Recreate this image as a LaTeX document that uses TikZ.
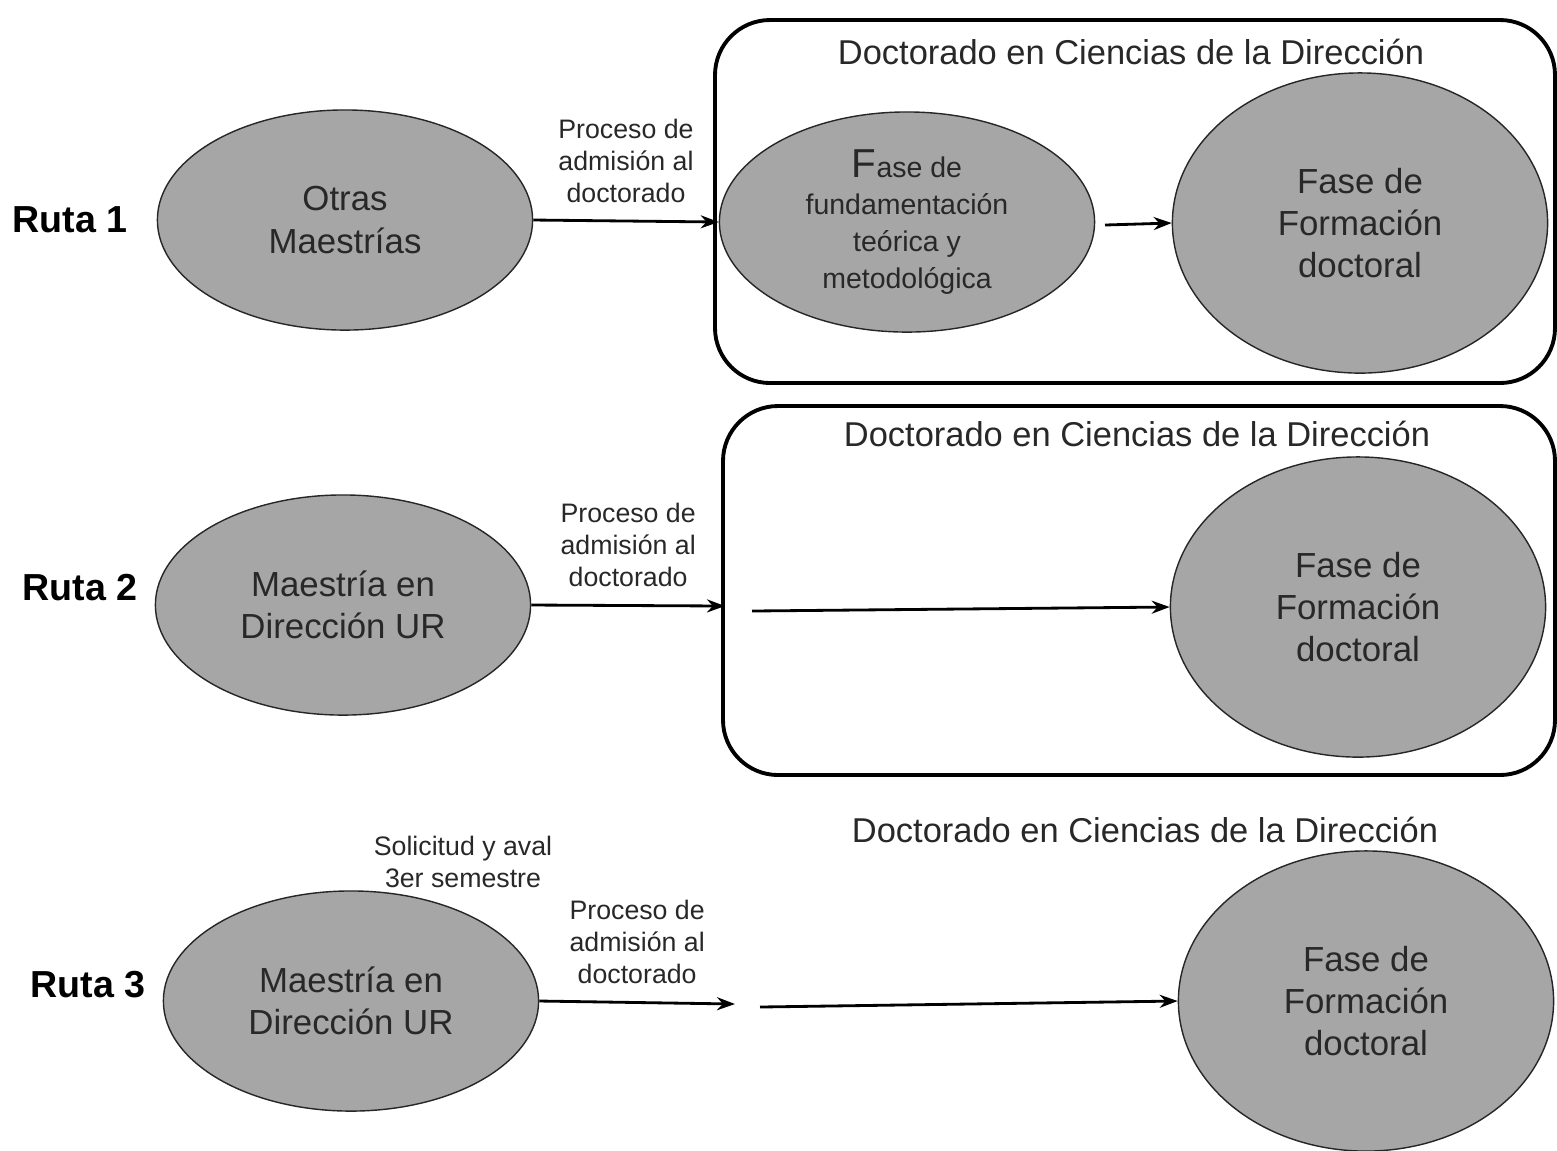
\documentclass[tikz,border=0pt]{standalone}
\usepackage{fontspec}
\setmainfont{Liberation Sans}
\usetikzlibrary{shapes.geometric,arrows.meta}
\definecolor{fasegris}{RGB}{166,166,166}
\definecolor{textogris}{RGB}{40,40,40}

\begin{document}
\begin{tikzpicture}[x=0.01cm, y=-0.01cm,
  fase/.style={ellipse, draw=black!85, fill=fasegris, minimum width=3.75cm, minimum height=2.2cm, align=center, inner sep=0pt, text=textogris, font=\fontsize{9.9}{12}\selectfont},
  fasegrande/.style={fase, minimum height=3.0cm},
  panel/.style={draw, line width=1.1pt, rounded corners=0.55cm},
  titulo/.style={text=textogris, font=\fontsize{9.8}{11}\selectfont},
  proceso/.style={align=center, text=textogris, font=\fontsize{7.6}{9.1}\selectfont},
  ruta/.style={font=\bfseries\fontsize{10.7}{12}\selectfont},
  flecha/.style={line width=0.8pt, -{Stealth[length=1.8mm, width=1.3mm]}}]
  \useasboundingbox (0,0) rectangle (1557,1150);
  \clip (0,0) rectangle (1557,1150);

  % Ruta 1
  \draw[panel] (715,20) rectangle (1555,383);
  \node[titulo] (t1) at (1131,52) {Doctorado en Ciencias de la Dirección};
  \node[ruta] (r1) at (70,220) {Ruta 1};
  \node[fase] (otras) at (345,220) {Otras\\Maestrías};
  \node[fase, font=\fontsize{8.1}{10.5}\selectfont] (fund) at (907,222) {{\fontsize{11.5}{10.5}\selectfont F}ase de\\fundamentación\\teórica y\\metodológica};
  \node[fasegrande] (form1) at (1360,223) {Fase de\\Formación\\doctoral};
  \coordinate (e1) at (fund.west);
  \draw[flecha] (otras.east) -- node[proceso, above=1.5pt] {Proceso de\\admisión al\\doctorado} (e1);
  \coordinate (s1) at (1105,225);
  \draw[flecha] (s1) -- (form1.west);

  % Ruta 2
  \draw[panel] (723,406) rectangle (1555,775);
  \node[titulo] (t2) at (1137,434) {Doctorado en Ciencias de la Dirección};
  \node[ruta] (r2) at (80,588) {Ruta 2};
  \node[fase] (maes2) at (343,605) {Maestría en\\Dirección UR};
  \node[fasegrande] (form2) at (1358,607) {Fase de\\Formación\\doctoral};
  \coordinate (e2) at (725,606);
  \draw[flecha] (maes2.east) -- node[proceso, above=1.5pt] {Proceso de\\admisión al\\doctorado} (e2);
  \coordinate (s2) at (752,611);
  \draw[flecha] (s2) -- (form2.west);

  % Ruta 3
  \node[titulo] (t3) at (1145,830) {Doctorado en Ciencias de la Dirección};
  \node[ruta] (r3) at (88,985) {Ruta 3};
  \node[fase] (maes3) at (351,1001) {Maestría en\\Dirección UR};
  \node[proceso] (sol) at (463,862) {Solicitud y aval\\3er semestre};
  \node[fasegrande] (form3) at (1366,1001) {Fase de\\Formación\\doctoral};
  \coordinate (e3) at (735,1004);
  \draw[flecha] (maes3.east) -- node[proceso, above=1.5pt] {Proceso de\\admisión al\\doctorado} (e3);
  \coordinate (s3) at (760,1007);
  \draw[flecha] (s3) -- (form3.west);
\end{tikzpicture}
\end{document}
